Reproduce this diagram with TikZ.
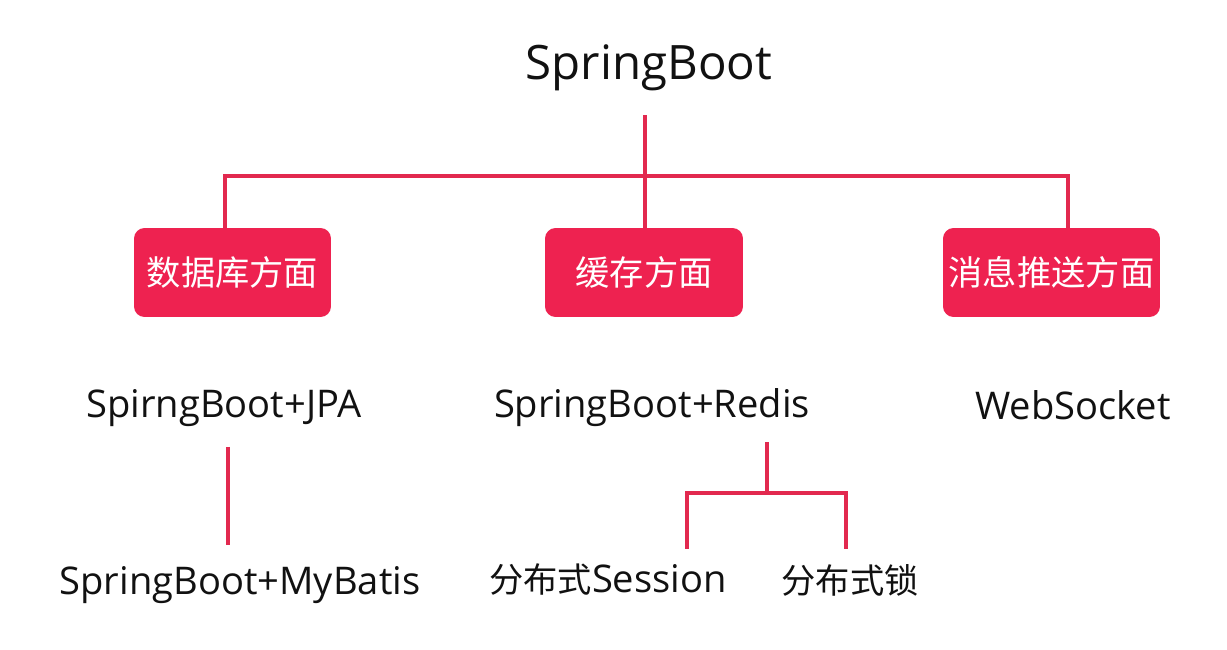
\documentclass[tikz,border=0pt]{standalone}
\usepackage{fontspec}
\setmainfont{Open Sans}
\newfontfamily\cjk{Noto Sans CJK SC}
\usepackage{xcolor}
\usepackage{tikz}
\usetikzlibrary{calc,positioning}
\definecolor{accent}{HTML}{EE2250}
\definecolor{wire}{HTML}{E2294F}
\definecolor{ink}{HTML}{111111}
\tikzset{
  link/.style={draw=wire, line width=1.8pt, line cap=butt, line join=miter},
  rootnode/.style={font=\fontsize{27}{30}\selectfont, text=ink, inner sep=0pt},
  topic/.style={
    rounded corners=6pt,
    fill=accent,
    draw=none,
    text=white,
    font=\fontsize{19.5}{22}\selectfont\cjk,
    minimum height=1.78cm,
    inner sep=0pt
  },
  leaf/.style={font=\fontsize{21.7}{24}\selectfont, text=ink, inner xsep=0pt, inner ysep=0.3cm}
}

\begin{document}
\begin{tikzpicture}[x=0.02cm,y=-0.02cm]
\path[use as bounding box] (0,0) rectangle (1227,649);
\fill[white] (0,0) rectangle (1227,649);

\node[rootnode] (root) at (649,68) {SpringBoot};

\node[topic, minimum width=3.94cm] (db) at (232.5,272.5) {数据库方面};
\node[topic, minimum width=3.96cm] (cache) at (644,272.5) {缓存方面};
\node[topic, minimum width=4.34cm] (msg) at (1051.5,272.5) {消息推送方面};

\node[leaf] (jpa) at (224,408) {SpirngBoot+JPA};
\node[leaf] (mybatis) at (240,585) {SpringBoot+MyBatis};
\node[leaf] (redis) at (652,408) {SpringBoot+Redis};
\node[leaf] (socket) at (1073,405) {WebSocket};
\node[leaf] (session) at (608,580) {{\cjk\fontsize{19.5}{22}\selectfont 分布式}Session};
\node[leaf, font=\fontsize{19.5}{22}\selectfont\cjk] (lock) at (850,580) {分布式锁};

% top level tree
\coordinate (hub) at (645,176);
\coordinate (rootfoot) at (645,115);
\draw[link] (rootfoot) -- (hub) -- (hub |- cache.north);
\draw[link] ([xshift=-0.15cm]db.north) |- (hub) -| ([xshift=0.33cm]msg.north);

% leaves
\draw[link, shorten <=0.1cm, shorten >=0.12cm] ([xshift=0.08cm]jpa.south) -- ([xshift=0.08cm]jpa.south |- mybatis.north);
\coordinate (fork) at (767,493);
\draw[link] (redis.south -| fork) -- (fork);
\draw[link] ([xshift=1.58cm]session.north) |- (fork) -| ([xshift=-0.08cm]lock.north);
\end{tikzpicture}
\end{document}
